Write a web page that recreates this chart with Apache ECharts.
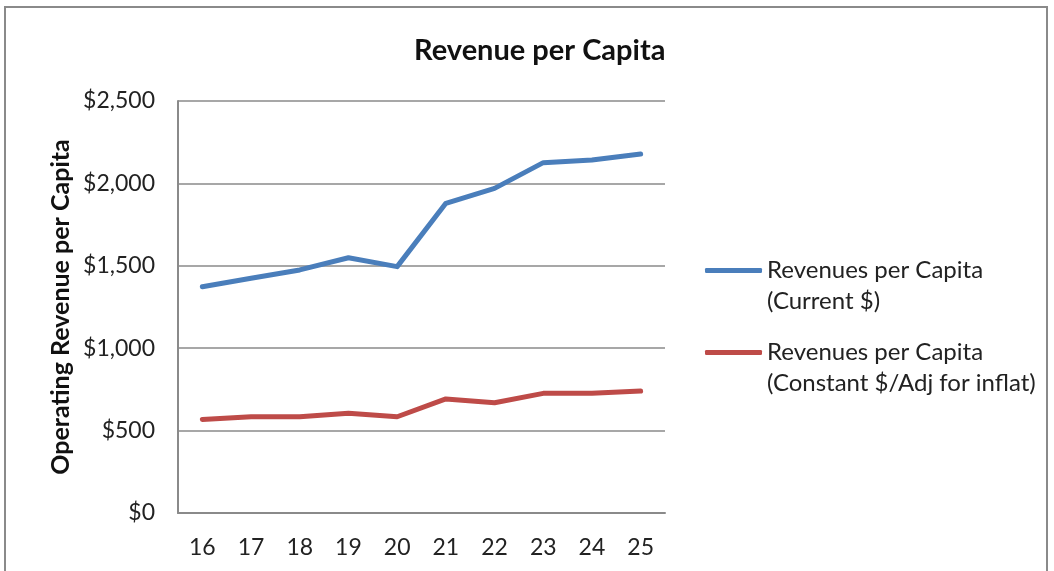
<!DOCTYPE html>
<html>
<head>
<meta charset="utf-8">
<script src="https://cdn.jsdelivr.net/npm/echarts@6/dist/echarts.min.js"></script>
<style>
  html, body { margin: 0; padding: 0; background: #fff; }
  .frame {
    position: absolute; left: 4px; top: 6px; width: 1044px; height: 580px;
    border: 2px solid #8a8a8a; box-sizing: border-box;
  }
  #chart { position: absolute; left: 0; top: 0; width: 1054px; height: 571px; }
</style>
</head>
<body>
<div class="frame"></div>
<div id="chart"></div>
<script>
// years (last two digits)
var years = ['16', '17', '18', '19', '20', '21', '22', '23', '24', '25']
var currentName = 'Revenues per Capita\n(Current $)'
var constantName = 'Revenues per Capita\n(Constant $/Adj for inflat)'
// revenue per capita, current dollars
var currentDollars = [1373, 1424, 1475, 1549, 1495, 1879, 1970, 2126, 2142, 2178]
// revenue per capita, constant dollars
var constantDollars = [568, 584, 584, 605, 584, 692, 669, 726, 726, 740]

var font = 'Lato, "Liberation Sans", sans-serif'
var chart = echarts.init(document.getElementById('chart'))

// one legend per series, so the icon sits next to the first text line
function legendFor(name, top) {
  return {
    data: [name],
    left: 705,
    top: top,
    padding: 0,
    orient: 'vertical',
    itemWidth: 57,
    itemHeight: 5,
    icon: 'roundRect',
    // blank first line keeps the icon level with the first real line
    formatter: function (n) { return ' \n' + n },
    textStyle: {
      fontFamily: font,
      fontSize: 24,
      color: '#222',
      lineHeight: 31
    }
  }
}

chart.setOption({
  animation: false,
  title: {
    text: 'Revenue per Capita',
    left: 409,
    top: 31,
    textStyle: { fontFamily: font, fontSize: 29, fontWeight: 'bold', color: '#111' }
  },
  legend: [
    legendFor(currentName, 224),
    legendFor(constantName, 306)
  ],
  grid: { left: 178, right: 389, top: 101, bottom: 58 },
  xAxis: {
    type: 'category',
    data: years,
    boundaryGap: true,
    axisLine: { lineStyle: { color: '#8a8a8a', width: 2 } },
    axisTick: { show: false },
    axisLabel: { fontFamily: font, fontSize: 23, color: '#222', margin: 23 }
  },
  yAxis: {
    type: 'value',
    min: 0,
    max: 2500,
    interval: 500,
    name: 'Operating Revenue per Capita',
    nameLocation: 'middle',
    nameGap: 105,
    nameTextStyle: { fontFamily: font, fontSize: 25, fontWeight: 'bold', color: '#111' },
    axisLine: { show: true, lineStyle: { color: '#8a8a8a', width: 2 } },
    axisTick: { show: false },
    splitLine: { lineStyle: { color: '#8a8a8a', width: 1.5 } },
    axisLabel: {
      fontFamily: font, fontSize: 23, color: '#222', margin: 23,
      formatter: function (v) { return '$' + v.toLocaleString('en-US') }
    }
  },
  series: [
    {
      name: currentName,
      type: 'line',
      data: currentDollars,
      symbol: 'none',
      lineStyle: { color: '#4a7ebb', width: 5, cap: 'round', join: 'round' },
      itemStyle: { color: '#4a7ebb' }
    },
    {
      name: constantName,
      type: 'line',
      data: constantDollars,
      symbol: 'none',
      lineStyle: { color: '#be4b48', width: 5, cap: 'round', join: 'round' },
      itemStyle: { color: '#be4b48' }
    }
  ]
})
</script>
</body>
</html>
